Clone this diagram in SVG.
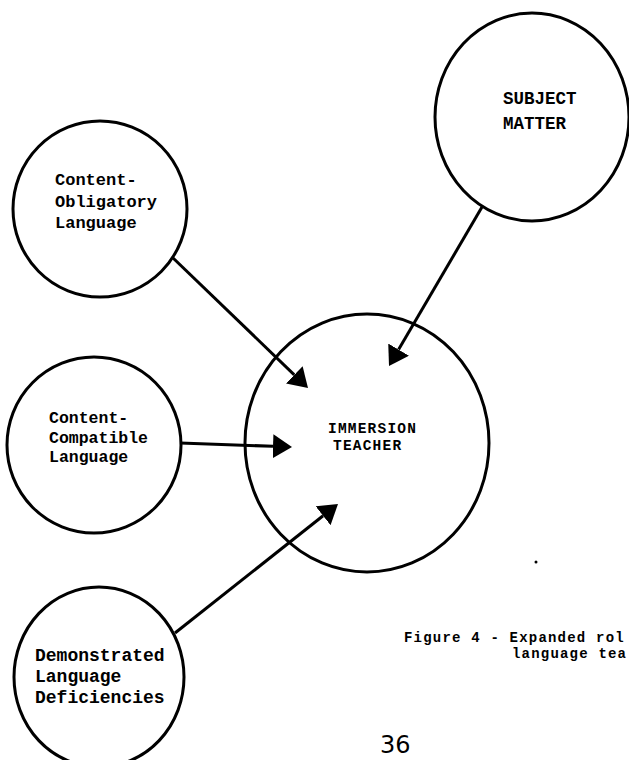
<svg xmlns="http://www.w3.org/2000/svg" width="629" height="760" viewBox="0 0 629 760">
<style>
.node ellipse{fill:none;stroke:#000;stroke-width:3}
.lbl{font-family:"Liberation Mono","DejaVu Sans Mono",monospace;font-weight:bold;fill:#000}
.conn line{stroke:#000;stroke-width:3}
.cap{font-family:"Liberation Mono","DejaVu Sans Mono",monospace;font-weight:bold;font-size:14px;letter-spacing:1.2px;fill:#000}
</style>
<defs>
<marker id="ah" viewBox="0 0 19 24" refX="0" refY="12" markerWidth="19" markerHeight="24" markerUnits="userSpaceOnUse" orient="auto">
<path d="M0,0 L19,12 L0,24 z" fill="#000"/>
</marker>
</defs>
<rect width="629" height="760" fill="#fff"/>
<g id="subject-matter" class="node">
<ellipse cx="532" cy="117" rx="97" ry="104"/>
<text class="lbl" font-size="17.5" x="503" y="104">SUBJECT</text>
<text class="lbl" font-size="17.5" x="503" y="129">MATTER</text>
</g>
<g id="content-obligatory" class="node">
<ellipse cx="100" cy="209" rx="87" ry="88"/>
<text class="lbl" font-size="17" x="55" y="185">Content-</text>
<text class="lbl" font-size="17" x="55" y="207">Obligatory</text>
<text class="lbl" font-size="17" x="55" y="228">Language</text>
</g>
<g id="content-compatible" class="node">
<ellipse cx="94" cy="445" rx="87" ry="88"/>
<text class="lbl" font-size="16.5" x="49" y="423">Content-</text>
<text class="lbl" font-size="16.5" x="49" y="443">Compatible</text>
<text class="lbl" font-size="16.5" x="49" y="462">Language</text>
</g>
<g id="demonstrated-deficiencies" class="node">
<ellipse cx="99" cy="677" rx="85" ry="90"/>
<text class="lbl" font-size="18" x="35" y="661">Demonstrated</text>
<text class="lbl" font-size="18" x="35" y="682">Language</text>
<text class="lbl" font-size="18" x="35" y="703">Deficiencies</text>
</g>
<g id="immersion-teacher" class="node">
<ellipse cx="367" cy="443" rx="122" ry="129"/>
<text class="lbl" font-size="14.5" letter-spacing="1.2" x="328" y="433">IMMERSION</text>
<text class="lbl" font-size="14.5" letter-spacing="1.2" x="333" y="450">TEACHER</text>
</g>
<g id="connectors" class="conn">
<line x1="172" y1="257" x2="294.3" y2="374.8" marker-end="url(#ah)"/>
<line x1="482" y1="207" x2="398.6" y2="349.6" marker-end="url(#ah)"/>
<line x1="180" y1="443" x2="273" y2="446.3" marker-end="url(#ah)"/>
<line x1="175" y1="633" x2="323.1" y2="515.8" marker-end="url(#ah)"/>
</g>
<g id="caption">
<text class="cap" x="404" y="642">Figure 4 - Expanded rol</text>
<text class="cap" x="512" y="658">language tea</text>
</g>
<circle cx="536" cy="562" r="1.5" fill="#000"/>
<text x="380" y="753" font-family="DejaVu Sans, sans-serif" font-size="24" fill="#000">36</text>
</svg>
